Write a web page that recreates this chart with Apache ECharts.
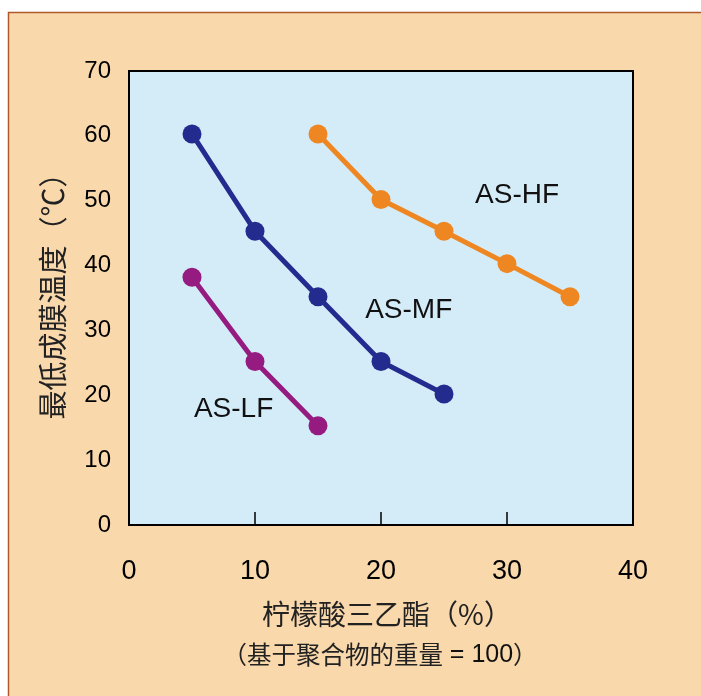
<!DOCTYPE html>
<html><head><meta charset="utf-8">
<script src="https://cdn.jsdelivr.net/npm/echarts@6/dist/echarts.min.js"></script>
<style>html,body{margin:0;padding:0;background:#fff;}#c{width:701px;height:696px;}</style>
</head><body><div id="c"></div>
<script>
// Data
const xLF = [5, 10, 15];
const yLF = [38.2, 25.2, 15.3];
const xMF = [5, 10, 15, 20, 25];
const yMF = [60.3, 45.3, 35.2, 25.2, 20.2];
const xHF = [15, 20, 25, 30, 35];
const yHF = [60.3, 50.2, 45.3, 40.3, 35.2];
const seriesNames = ['AS-LF', 'AS-MF', 'AS-HF'];
const labelAnchors = [[8.3, 17.8], [22.2, 33.1], [30.8, 50.8]];
const xTicks = [0, 10, 20, 30, 40];
const yTicks = [0, 10, 20, 30, 40, 50, 60, 70];
const xTitle = '柠檬酸三乙酯（%）';
const xSubtitleCjk = '（基于聚合物的重量';
const xSubtitleNum = ' = 100';
const xSubtitleEnd = '）';
const yTitle = '最低成膜温度（℃）';

const colors = ['#951b80', '#232c8e', '#ee8721'];
const xs = [xLF, xMF, xHF], ys = [yLF, yMF, yHF];
const chart = echarts.init(document.getElementById('c'), null, {renderer: 'canvas'});
const series = seriesNames.map((n, i) => ({
  name: n, type: 'line',
  data: xs[i].map((x, j) => [x, ys[i][j]]),
  symbol: 'circle', symbolSize: 19,
  lineStyle: {color: colors[i], width: 5},
  itemStyle: {color: colors[i]},
  z: 3,
  markPoint: {
    symbol: 'circle', symbolSize: 1, itemStyle: {color: 'rgba(0,0,0,0)'},
    label: {show: true, formatter: n, position: 'inside', color: '#111', fontFamily: 'Liberation Sans, Arial', fontSize: 28},
    data: [{coord: labelAnchors[i]}]
  }
}));
chart.setOption({
  backgroundColor: '#ffffff',
  animation: false,
  graphic: [
    {type: 'rect', z: -10, shape: {x: 8.5, y: 12.5, width: 720, height: 720}, style: {fill: '#f9d8ac', stroke: '#b0582a', lineWidth: 1.5}},
    {type: 'text', z: 10, x: 380, y: 655, style: {
      text: '{c|' + xSubtitleCjk + '}{n|' + xSubtitleNum + '}{c|' + xSubtitleEnd + '}',
      textAlign: 'center', textVerticalAlign: 'middle',
      rich: {
        c: {fill: '#222', fontSize: 24.5, fontFamily: 'Noto Sans CJK SC'},
        n: {fill: '#111', fontSize: 25, fontFamily: 'Liberation Sans, Arial'}
      }
    }}
  ],
  grid: {left: 129, right: 68, top: 71, bottom: 171, show: true, backgroundColor: '#d4ebf8', borderColor: '#000', borderWidth: 2},
  xAxis: {
    type: 'value', min: xTicks[0], max: xTicks[xTicks.length - 1], interval: 10,
    name: xTitle, nameLocation: 'middle', nameGap: 75,
    nameTextStyle: {color: '#222', fontSize: 28, fontFamily: 'Noto Sans CJK SC', padding: [0, 0, 0, 12]},
    axisLine: {show: false},
    axisTick: {show: true, inside: true, length: 13, lineStyle: {color: '#000', width: 1.5}},
    axisLabel: {color: '#000', fontSize: 27, fontFamily: 'Liberation Sans, Arial', margin: 33},
    splitLine: {show: false}
  },
  yAxis: {
    type: 'value', min: yTicks[0], max: yTicks[yTicks.length - 1], interval: 10,
    name: yTitle, nameLocation: 'middle', nameGap: 62, nameRotate: 90,
    nameTextStyle: {color: '#222', fontSize: 29, fontFamily: 'Noto Sans CJK SC', padding: [0, 0, 0, 18]},
    axisLine: {show: false},
    axisTick: {show: false},
    axisLabel: {color: '#000', fontSize: 24, fontFamily: 'Liberation Sans, Arial', margin: 18, padding: [3, 0, 0, 0]},
    splitLine: {show: false}
  },
  series: series
});
</script></body></html>
